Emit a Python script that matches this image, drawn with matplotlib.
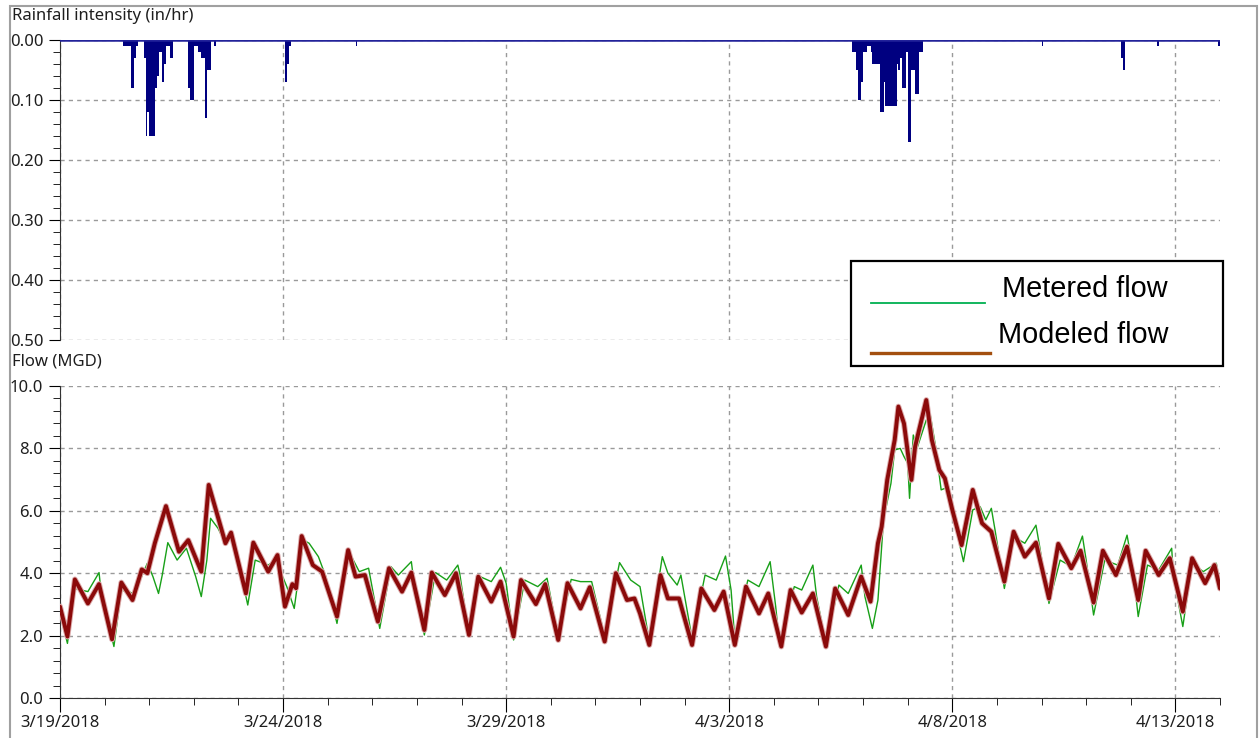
import matplotlib
matplotlib.use('Agg')
import matplotlib.pyplot as plt
import matplotlib.dates as mdates
import matplotlib.patheffects as pe
from matplotlib.patches import Rectangle
from matplotlib.lines import Line2D
from matplotlib.ticker import MultipleLocator, FormatStrFormatter, FixedLocator, FuncFormatter
from datetime import datetime
import numpy as np

plt.rcParams['font.family'] = ['Noto Sans', 'DejaVu Sans']

# ---- data (hours since 3/19/2018 00:00) ----
start = datetime(2018, 3, 19)
n_days = 26

rain_hours = [34, 35, 36, 37, 38, 39, 40, 41,
              45, 46, 47, 48, 49, 50, 51, 52, 53, 54, 55, 56, 57, 58, 59, 60,
              69, 70, 71, 72, 73, 74, 75, 76, 77, 78, 79, 80, 83,
              121, 122, 123, 159,
              426, 427, 428, 429, 430, 431, 432, 433, 434, 435, 436, 437, 438, 439, 440,
              441, 442, 443, 444, 445, 446, 447, 448, 449, 450, 451, 452, 453, 454,
              455, 456, 457, 458, 459, 460, 461, 462, 463,
              528, 571, 572, 590, 623]
rain_inhr = [0.01, 0.01, 0.01, 0.01, 0.08, 0.08, 0.03, 0.01,
             0.03, 0.16, 0.12, 0.16, 0.16, 0.16, 0.08, 0.06, 0.02, 0.02, 0.07, 0.04, 0.01, 0.01, 0.03, 0.03,
             0.08, 0.10, 0.10, 0.01, 0.01, 0.02, 0.02, 0.03, 0.03, 0.13, 0.05, 0.05, 0.01,
             0.07, 0.04, 0.01, 0.01,
             0.02, 0.02, 0.05, 0.10, 0.10, 0.07, 0.02, 0.02, 0.01, 0.01, 0.02, 0.04, 0.04, 0.04, 0.04,
             0.12, 0.12, 0.07, 0.11, 0.11, 0.11, 0.11, 0.11, 0.11, 0.04, 0.05, 0.03, 0.08, 0.08,
             0.02, 0.17, 0.17, 0.05, 0.05, 0.09, 0.09, 0.02, 0.02,
             0.01, 0.03, 0.05, 0.01, 0.01]

model_hours = [0, 4, 8, 15, 21, 28, 33, 39, 44, 47, 51, 57, 64, 69, 76, 80, 89, 92, 100, 104,
               112, 117, 121, 125, 127, 130, 136, 141, 149, 155,
               159, 164, 171, 177, 184, 189, 196, 200, 207, 213, 220, 225, 232, 237, 244, 248,
               256, 261, 268, 273, 280, 285, 293, 299, 305, 309, 312,
               317, 323, 327, 333, 340, 345, 352, 357, 363, 369, 376, 381, 388, 393, 399, 405,
               412, 417, 424, 431, 436, 440, 442, 445, 449, 451, 454, 458, 460, 466,
               469, 473, 476, 480, 485, 491, 496, 501, 508, 513, 519, 525, 532, 537, 544, 549,
               556, 561, 568, 574, 580, 584, 591, 597, 604, 609, 616, 621, 624]
model_mgd = [2.93, 1.97, 3.80, 3.03, 3.65, 1.88, 3.70, 3.14, 4.12, 4.00, 4.96, 6.15, 4.69, 5.06, 4.05, 6.83, 4.96, 5.30, 3.35, 4.98,
             4.05, 4.58, 2.93, 3.65, 3.52, 5.19, 4.26, 4.05, 2.61, 4.74,
             3.89, 3.94, 2.45, 4.16, 3.41, 4.02, 2.18, 4.02, 3.30, 4.00, 2.02, 3.89, 3.09, 3.73, 1.97, 3.78,
             3.01, 3.65, 1.86, 3.68, 2.87, 3.55, 1.81, 4.00, 3.14, 3.19, 2.71,
             1.70, 3.94, 3.19, 3.19, 1.70, 3.51, 2.82, 3.41, 1.70, 3.57, 2.71, 3.35, 1.65, 3.46, 2.74, 3.35,
             1.65, 3.51, 2.66, 3.89, 3.09, 4.96, 5.49, 6.99, 8.27, 9.34, 8.80, 6.99, 8.06, 9.55,
             8.27, 7.31, 7.04, 6.03, 4.90, 6.67, 5.60, 5.33, 3.73, 5.33, 4.53, 4.98, 3.19, 4.94, 4.16, 4.72,
             3.06, 4.72, 3.94, 4.85, 3.14, 4.72, 3.94, 4.48, 2.77, 4.48, 3.68, 4.26, 3.51]

meter_hours = [0, 4, 8, 15, 21, 22, 29, 33, 40, 47, 50, 53, 55, 58, 63, 68, 73, 76, 79, 81,
               85, 89, 93, 101, 105, 112, 116, 122, 126, 131, 134, 139, 143, 149, 155,
               161, 166, 172, 178, 182, 189, 190, 196, 202, 208, 214, 215, 220, 226, 232, 237,
               240, 244, 250, 257, 262, 268, 275, 280, 286, 293, 301, 307, 312,
               317, 324, 327, 332, 334, 340, 347, 353, 358, 361, 363, 370, 376, 382, 385, 387,
               395, 399, 405, 407, 412, 419, 424, 429, 431, 433, 437, 440, 443, 447, 449, 452,
               454, 456, 457, 459, 461, 466,
               468, 471, 474, 478, 481, 486, 491, 495, 498, 501, 503, 508, 513, 519, 525, 527,
               532, 538, 544, 550, 552, 556, 562, 569, 574, 577, 580, 585, 591, 598, 599, 604,
               609, 615, 622, 624]
meter_mgd = [2.71, 1.75, 3.51, 3.41, 4.02, 3.46, 1.65, 3.46, 3.35, 4.32, 3.89, 3.35, 3.94, 4.98, 4.42, 4.80, 3.89, 3.25, 4.42, 5.76,
             5.44, 4.96, 5.22, 2.98, 4.42, 4.26, 4.42, 3.57, 2.87, 5.06, 4.96, 4.53, 3.89, 2.39, 4.74,
             4.05, 4.16, 2.23, 4.21, 3.94, 4.37, 3.89, 2.02, 4.02, 3.78, 4.26, 4.00, 2.02, 3.89, 3.73, 4.19,
             3.68, 1.86, 3.78, 3.57, 3.84, 1.97, 3.80, 3.73, 3.73, 1.97, 4.34, 3.78, 3.57,
             1.81, 4.53, 4.00, 3.62, 3.94, 1.91, 3.94, 3.78, 4.55, 3.46, 1.86, 3.78, 3.57, 4.37, 2.93, 1.75,
             3.57, 3.46, 4.26, 3.25, 1.75, 3.62, 3.35, 4.00, 4.26, 3.25, 2.23, 3.14, 5.71, 6.88, 7.95, 8.00,
             7.74, 7.52, 6.40, 8.43, 8.00, 8.91,
             9.12, 8.06, 6.67, 6.77, 5.71, 4.37, 6.03, 6.13, 5.71, 6.08, 5.38, 3.51, 5.17, 4.96, 5.54, 4.85,
             3.03, 4.42, 4.21, 5.19, 4.42, 2.66, 4.42, 4.26, 5.22, 4.21, 2.61, 4.26, 4.10, 4.80, 3.89, 2.29,
             4.32, 4.05, 4.32, 3.62]

legend_labels = ['Metered flow', 'Modeled flow']

# ---- helpers ----
W, H = 1259, 738
def fx(x):
    return x / W
def fy(y):
    return 1 - y / H

t0 = mdates.date2num(start)
def hx(hours):
    return t0 + np.array(hours, dtype=float) / 24.0

major_days = [t0 + d for d in range(0, n_days, 5)]
minor_days = [t0 + d for d in range(0, n_days + 1)]
date_fmt = FuncFormatter(lambda v, p: '{d.month}/{d.day}/{d.year}'.format(d=mdates.num2date(v)))

grid_kw = dict(color='#9a9a9a', linestyle=(0, (3, 3)), linewidth=1.0)
tick_col = '#1e1e1e'
fs = 12

fig = plt.figure(figsize=(W / 100, H / 100), dpi=100)

# ---- rainfall panel ----
ax_r = fig.add_axes([fx(60), fy(340), fx(1220) - fx(60), fy(40) - fy(340)])
ax_r.bar(hx(rain_hours), rain_inhr, width=1 / 24, align='edge', color='#000080', linewidth=0, zorder=3)
ax_r.axhline(0, color='#22229a', linewidth=1.8, zorder=4)
ax_r.set_xlim(t0, t0 + n_days)
ax_r.set_ylim(0.5, 0)
ax_r.yaxis.set_major_locator(MultipleLocator(0.1))
ax_r.yaxis.set_minor_locator(MultipleLocator(0.02))
ax_r.yaxis.set_major_formatter(FormatStrFormatter('%.2f'))
ax_r.xaxis.set_major_locator(FixedLocator(major_days))
ax_r.grid(True, which='major', **grid_kw)
ax_r.set_axisbelow(True)
for s in ['top', 'right', 'bottom']:
    ax_r.spines[s].set_visible(False)
ax_r.spines['left'].set_color('#333333')
ax_r.tick_params(axis='x', length=0, labelbottom=False)
ax_r.tick_params(axis='y', which='major', length=8, pad=4, labelsize=fs, labelcolor=tick_col)
ax_r.tick_params(axis='y', which='minor', length=5)

# ---- flow panel ----
ax_f = fig.add_axes([fx(60), fy(698), fx(1220) - fx(60), fy(386) - fy(698)])
ax_f.plot(hx(meter_hours), meter_mgd, color='#18a018', linewidth=1.0, zorder=3)
ax_f.plot(hx(model_hours), model_mgd, color='#8b0a0a', linewidth=2.8, zorder=4,
          solid_joinstyle='round', solid_capstyle='round',
          path_effects=[pe.Stroke(linewidth=4.2, foreground='#dcaaaa'), pe.Normal()])
ax_f.set_xlim(t0, t0 + n_days)
ax_f.set_ylim(0, 10)
ax_f.yaxis.set_major_locator(MultipleLocator(2))
ax_f.yaxis.set_minor_locator(MultipleLocator(0.4))
ax_f.yaxis.set_major_formatter(FormatStrFormatter('%.1f'))
ax_f.xaxis.set_major_locator(FixedLocator(major_days))
ax_f.xaxis.set_minor_locator(FixedLocator(minor_days))
ax_f.xaxis.set_major_formatter(date_fmt)
ax_f.grid(True, which='major', **grid_kw)
ax_f.set_axisbelow(True)
for s in ['top', 'right']:
    ax_f.spines[s].set_visible(False)
ax_f.spines['left'].set_color('#333333')
ax_f.spines['bottom'].set_color('#333333')
ax_f.tick_params(axis='y', which='major', length=8, pad=4, labelsize=fs, labelcolor=tick_col)
ax_f.tick_params(axis='y', which='minor', length=5)
ax_f.tick_params(axis='x', which='major', length=10, pad=2, labelsize=fs, labelcolor=tick_col)
ax_f.tick_params(axis='x', which='minor', length=5)

# ---- panel titles ----
fig.text(fx(12), fy(16), 'Rainfall intensity (in/hr)', ha='left', va='center', fontsize=fs, color=tick_col)
fig.text(fx(12), fy(362), 'Flow (MGD)', ha='left', va='center', fontsize=fs, color=tick_col)

# ---- legend box ----
fig.add_artist(Rectangle((fx(851), fy(366)), fx(1223) - fx(851), fy(261) - fy(366),
                         transform=fig.transFigure, facecolor='white', edgecolor='black',
                         linewidth=1.6, zorder=10))
fig.add_artist(Line2D([fx(871), fx(985)], [fy(303), fy(303)], transform=fig.transFigure,
                      color='#00b050', linewidth=1.3, zorder=11))
fig.add_artist(Line2D([fx(871), fx(990)], [fy(353), fy(353)], transform=fig.transFigure,
                      color='#a34f0f', linewidth=2.4, zorder=11))
fig.text(fx(1002), fy(289), legend_labels[0], ha='left', va='center', fontsize=20.8,
         family='Liberation Sans', zorder=11)
fig.text(fx(998), fy(335), legend_labels[1], ha='left', va='center', fontsize=20.8,
         family='Liberation Sans', zorder=11)

# ---- outer frame ----
fig.add_artist(Rectangle((fx(10), -0.05), fx(1257) - fx(10), fy(6) + 0.05, transform=fig.transFigure,
                         fill=False, edgecolor='#a0a0a0', linewidth=1.5, zorder=0))

fig.savefig('out.png', dpi=100)
